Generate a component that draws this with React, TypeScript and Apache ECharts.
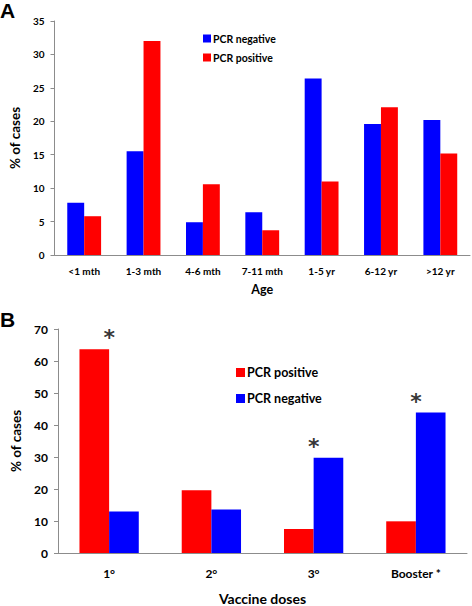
import React, { useEffect, useRef } from "react";
import * as echarts from "echarts";

const ageCategories = ["<1 mth", "1-3 mth", "4-6 mth", "7-11 mth", "1-5 yr", "6-12 yr", ">12 yr"];
const ageNegative = [7.8, 15.5, 4.9, 6.4, 26.4, 19.6, 20.2];
const agePositive = [5.8, 32.0, 10.6, 3.7, 11.0, 22.1, 15.2];

const doseCategories = ["1°", "2°", "3°", "Booster *"];
const dosePositive = [63.7, 19.6, 7.5, 9.9];
const doseNegative = [13.0, 13.6, 29.8, 43.9];
const doseStarred = [true, false, true, true];

const RED = "#ff0000";
const BLUE = "#0000ff";
const FONT = "Lato";

export default function App() {
  const ref = useRef<HTMLDivElement>(null);
  useEffect(() => {
    if (!ref.current) return;
    const chart = echarts.init(ref.current, null, { renderer: "svg" });
    const starData = doseCategories.map((c, i) =>
      doseStarred[i] ? [c, Math.max(dosePositive[i], doseNegative[i])] : null
    ).filter(Boolean);
    const axisLine = { lineStyle: { color: "#8c8c8c", width: 1 } };
    const tickLbl = (size: number) => ({ color: "#000", fontWeight: "bold", fontFamily: FONT, fontSize: size });
    chart.setOption({
      animation: false,
      backgroundColor: "#fff",
      textStyle: { fontFamily: FONT },
      grid: [
        { left: 52, top: 21, width: 418, height: 234 },
        { left: 58, top: 329, width: 409, height: 232 },
      ],
      legend: [
        {
          data: ["PCR negative", "PCR positive"],
          orient: "vertical",
          left: 198,
          top: 28,
          itemWidth: 8,
          itemHeight: 8,
          itemGap: 8,
          icon: "rect",
          textStyle: { ...tickLbl(10.5), padding: [0, 0, 0, -3] },
        },
        {
          data: ["PCR positive", "PCR negative"],
          orient: "vertical",
          left: 231,
          top: 361,
          itemWidth: 9,
          itemHeight: 9,
          itemGap: 13,
          icon: "rect",
          textStyle: { ...tickLbl(12.5), padding: [0, 0, 0, -3] },
        },
      ],
      xAxis: [
        {
          type: "category",
          gridIndex: 0,
          data: ageCategories,
          axisLine,
          axisTick: { show: false },
          axisLabel: { ...tickLbl(10), margin: 11, interval: 0 },
          name: "Age",
          nameLocation: "middle",
          nameGap: 28,
          nameTextStyle: tickLbl(12.5),
        },
        {
          type: "category",
          gridIndex: 1,
          data: doseCategories,
          axisLine,
          axisTick: { show: false },
          axisLabel: { ...tickLbl(12), margin: 14, interval: 0 },
          name: "Vaccine doses",
          nameLocation: "middle",
          nameGap: 38,
          nameTextStyle: tickLbl(14),
        },
      ],
      yAxis: [
        {
          type: "value",
          gridIndex: 0,
          min: 0,
          max: 35,
          interval: 5,
          axisLine: { show: true, ...axisLine },
          axisTick: { show: true, length: 4, lineStyle: { color: "#8c8c8c" } },
          splitLine: { show: false },
          axisLabel: { ...tickLbl(10), margin: 10 },
          name: "% of cases",
          nameLocation: "middle",
          nameRotate: 90,
          nameGap: 25,
          nameTextStyle: tickLbl(13.5),
        },
        {
          type: "value",
          gridIndex: 1,
          min: 0,
          max: 70,
          interval: 10,
          axisLine: { show: true, ...axisLine },
          axisTick: { show: true, length: 4, lineStyle: { color: "#8c8c8c" } },
          splitLine: { show: false },
          axisLabel: { ...tickLbl(12), margin: 10 },
          name: "% of cases",
          nameLocation: "middle",
          nameRotate: 90,
          nameGap: 31,
          nameTextStyle: tickLbl(13.5),
        },
      ],
      series: [
        {
          name: "PCR negative",
          type: "bar",
          xAxisIndex: 0,
          yAxisIndex: 0,
          data: ageNegative,
          itemStyle: { color: BLUE },
          barGap: "0%",
          barCategoryGap: "43%",
        },
        {
          name: "PCR positive",
          type: "bar",
          xAxisIndex: 0,
          yAxisIndex: 0,
          data: agePositive,
          itemStyle: { color: RED },
          barGap: "0%",
          barCategoryGap: "43%",
        },
        {
          name: "PCR positive",
          type: "bar",
          xAxisIndex: 1,
          yAxisIndex: 1,
          data: dosePositive,
          itemStyle: { color: RED },
          barGap: "0%",
          barCategoryGap: "42%",
        },
        {
          name: "PCR negative",
          type: "bar",
          xAxisIndex: 1,
          yAxisIndex: 1,
          data: doseNegative,
          itemStyle: { color: BLUE },
          barGap: "0%",
          barCategoryGap: "42%",
        },
        {
          name: "stars",
          type: "scatter",
          xAxisIndex: 1,
          yAxisIndex: 1,
          data: starData,
          symbolSize: 1,
          itemStyle: { color: "transparent" },
          label: {
            show: true,
            position: "top",
            distance: 0,
            formatter: "*",
            color: "#000",
            fontSize: 22,
            fontWeight: "bold",
            fontFamily: "DejaVu Sans",
          },
          silent: true,
        },
      ],
      graphic: [
        { type: "text", left: 0, top: 0, style: { text: "A", fontSize: 21, fontWeight: "bold", fontFamily: "Liberation Sans", fill: "#000" } },
        { type: "text", left: 0, top: 309, style: { text: "B", fontSize: 21, fontWeight: "bold", fontFamily: "Liberation Sans", fill: "#000" } },
      ],
    });
    return () => chart.dispose();
  }, []);
  return <div ref={ref} style={{ position: "absolute", left: 0, top: 0, width: 472, height: 606 }} />;
}
